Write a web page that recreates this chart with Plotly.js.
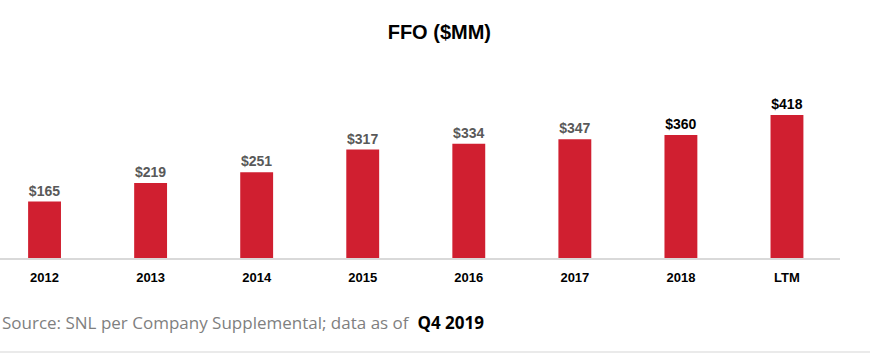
<!DOCTYPE html>
<html>
<head>
<meta charset="utf-8">
<script src="https://cdn.plot.ly/plotly-3.0.1.min.js"></script>
<style>html,body{margin:0;padding:0;background:#fff;}#chart{width:870px;height:355px;}</style>
</head>
<body>
<div id="chart"></div>
<script>
const categories = ["2012", "2013", "2014", "2015", "2016", "2017", "2018", "LTM"];
const ffoValues = [165, 219, 251, 317, 334, 347, 360, 418];
const valueLabels = ["$165", "$219", "$251", "$317", "$334", "$347", "$360", "$418"];
const labelColors = ["#595959", "#595959", "#595959", "#595959", "#595959", "#595959", "#000000", "#000000"];

const trace = {
  type: "bar",
  x: categories,
  y: ffoValues,
  text: valueLabels,
  textposition: "outside",
  textfont: {family: "Arial", size: 14, color: labelColors, weight: 700},
  cliponaxis: false,
  marker: {color: "#D01F30"},
  width: 0.31,
  hoverinfo: "x+y"
};

const layout = {
  width: 870, height: 355,
  margin: {l: 0, r: 30, t: 60, b: 97},
  paper_bgcolor: "#fff", plot_bgcolor: "#fff",
  showlegend: false,
  title: {text: "<b>FFO ($MM)</b>", x: 0.505, xanchor: "center", y: 0.91, yanchor: "middle",
          font: {family: "Arial", size: 20, color: "#000"}},
  xaxis: {type: "category", range: [-0.42, 7.5], showgrid: false, zeroline: false,
          showline: true, linecolor: "#d9d9d9", linewidth: 1.5, ticks: "",
          tickfont: {family: "Arial", size: 13, color: "#000", weight: 700},
          ticklabelstandoff: 7},
  yaxis: {range: [0, 579], visible: false, showgrid: false, zeroline: false},
  annotations: [{
    xref: "paper", yref: "paper", x: 0, y: -0.325, xanchor: "left", yanchor: "middle",
    showarrow: false, align: "left",
    text: "Source: SNL per Company Supplemental; data as of  <span style='color:#000'><b>Q4 2019</b></span>",
    font: {family: "Open Sans", size: 17, color: "#7f7f7f"}
  }],
  shapes: [{
    type: "line", xref: "paper", yref: "paper", x0: -0.05, x1: 1.1, y0: -0.475, y1: -0.475,
    line: {color: "#e3e3e3", width: 1.5}
  }]
};

Plotly.newPlot("chart", [trace], layout, {staticPlot: true, displayModeBar: false});
</script>
</body>
</html>
